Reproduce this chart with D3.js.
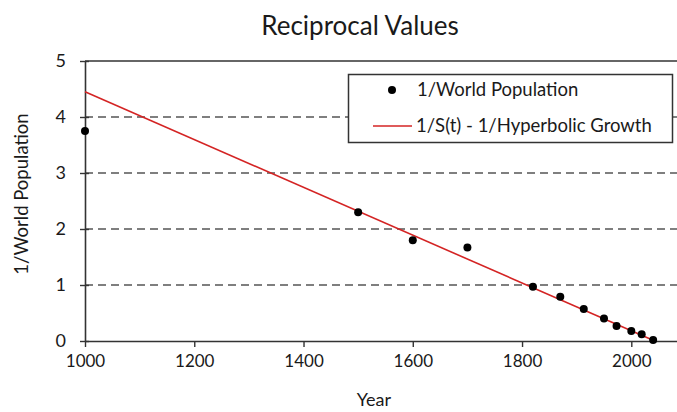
<!DOCTYPE html>
<html>
<head>
<meta charset="utf-8">
<script src="https://cdn.jsdelivr.net/npm/d3@7"></script>
<style>
  html, body { margin: 0; padding: 0; background: #fff; }
  svg { display: block; }
  text { font-family: Lato, "Open Sans", sans-serif; fill: #1a1a1a; }
</style>
</head>
<body>
<svg id="chart" width="677" height="412"></svg>
<script>
// ---- data ----
const popYears  = [1000, 1500, 1600, 1700, 1820, 1870, 1913, 1950, 1973, 2000, 2019, 2040];
const popValues = [3.75, 2.30, 1.80, 1.67, 0.97, 0.79, 0.57, 0.40, 0.27, 0.18, 0.12, 0.02];
const fitYears  = [1000, 2043];
const fitValues = [4.45, 0.00];
const xTicks = [1000, 1200, 1400, 1600, 1800, 2000];
const yTicks = [0, 1, 2, 3, 4, 5];
const titleText = "Reciprocal Values";
const xLabel = "Year";
const yLabel = "1/World Population";
const legendLabels = ["1/World Population", "1/S(t) - 1/Hyperbolic Growth"];

// ---- layout ----
const svg = d3.select("#chart");
const plotLeft = 85, plotTop = 61, plotBottom = 341;
const x = d3.scaleLinear().domain([1000, 2100]).range([plotLeft, plotLeft + 1100 * 0.5463]);
const y = d3.scaleLinear().domain([0, 5]).range([plotBottom, plotTop]);
const axisColor = "#333";
const red = "#d42424";

// gridlines (dashed) for 1..4
svg.append("g").selectAll("line")
  .data(yTicks.filter(d => d > 0 && d < 5))
  .join("line")
  .attr("x1", x(1000)).attr("x2", x(2100))
  .attr("y1", d => y(d)).attr("y2", d => y(d))
  .attr("stroke", "#555").attr("stroke-width", 1.6)
  .attr("stroke-dasharray", "8,5");

// top border at 5
svg.append("line")
  .attr("x1", x(1000)).attr("x2", x(2100))
  .attr("y1", y(5)).attr("y2", y(5))
  .attr("stroke", axisColor).attr("stroke-width", 1.6);

// x axis
const xAxis = svg.append("g")
  .attr("transform", `translate(0,${y(0)})`)
  .call(d3.axisBottom(x).tickValues(xTicks).tickSize(6).tickSizeOuter(0).tickFormat(d3.format("d")));
xAxis.select(".domain").attr("stroke", axisColor).attr("stroke-width", 1.6);
xAxis.selectAll(".tick line").attr("stroke", axisColor).attr("stroke-width", 1.4);
xAxis.selectAll(".tick text")
  .attr("y", 14).attr("dy", "0.71em")
  .style("font-family", "Lato, sans-serif").style("font-size", "17px").attr("fill", "#1a1a1a");

// y axis
const yAxis = svg.append("g")
  .attr("transform", `translate(${x(1000)},0)`)
  .call(d3.axisLeft(y).tickValues(yTicks).tickSize(5).tickSizeOuter(0).tickPadding(14).tickFormat(d3.format("d")));
yAxis.select(".domain").attr("stroke", axisColor).attr("stroke-width", 1.6);
yAxis.selectAll(".tick line").attr("stroke", axisColor).attr("stroke-width", 1.4).attr("x2", 4).attr("x1", -5);
yAxis.selectAll(".tick text")
  .style("font-family", "Lato, sans-serif").style("font-size", "18px").attr("fill", "#1a1a1a");

// fitted line
svg.append("path")
  .datum(fitYears.map((d, i) => [d, fitValues[i]]))
  .attr("d", d3.line().x(d => x(d[0])).y(d => y(d[1])))
  .attr("fill", "none").attr("stroke", red).attr("stroke-width", 1.6);

// points
svg.append("g").selectAll("circle")
  .data(popYears.map((d, i) => [d, popValues[i]]))
  .join("circle")
  .attr("cx", d => x(d[0])).attr("cy", d => y(d[1]))
  .attr("r", 4).attr("fill", "#000");

// title
svg.append("text")
  .attr("x", 360).attr("y", 35)
  .attr("text-anchor", "middle")
  .style("font-size", "26px")
  .text(titleText);

// x label
svg.append("text")
  .attr("x", 374).attr("y", 406)
  .attr("text-anchor", "middle")
  .style("font-size", "18px")
  .text(xLabel);

// y label
svg.append("text")
  .attr("transform", "translate(28,194) rotate(-90)")
  .attr("text-anchor", "middle")
  .style("font-size", "18.5px")
  .text(yLabel);

// legend
const lg = svg.append("g");
lg.append("rect")
  .attr("x", 348.5).attr("y", 74.5).attr("width", 324).attr("height", 68)
  .attr("fill", "#fff").attr("stroke", axisColor).attr("stroke-width", 1.5);
lg.append("circle").attr("cx", 392).attr("cy", 90).attr("r", 4).attr("fill", "#000");
lg.append("line").attr("x1", 373).attr("x2", 412).attr("y1", 126).attr("y2", 126)
  .attr("stroke", red).attr("stroke-width", 1.6);
lg.append("text").attr("x", 417).attr("y", 90).attr("dy", "0.35em")
  .style("font-size", "18.5px").text(legendLabels[0]);
lg.append("text").attr("x", 416).attr("y", 126).attr("dy", "0.35em")
  .style("font-size", "18.5px").text(legendLabels[1]);
</script>
</body>
</html>
